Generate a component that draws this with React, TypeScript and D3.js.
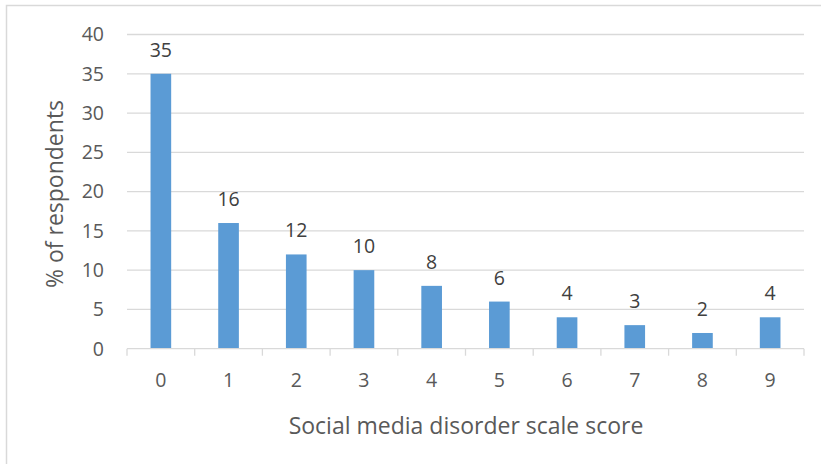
import { scaleBand, scaleLinear } from "d3";

const scores = ["0", "1", "2", "3", "4", "5", "6", "7", "8", "9"];
const percents = [35, 16, 12, 10, 8, 6, 4, 3, 2, 4];
const yTickValues = [0, 5, 10, 15, 20, 25, 30, 35, 40];
const xTitle = "Social media disorder scale score";
const yTitle = "% of respondents";

const width = 821;
const height = 464;
const margin = { top: 34.5, right: 17, bottom: 115.3, left: 127 };
const font = "'Open Sans', 'Noto Sans', sans-serif";

export default function App() {
  const x = scaleBand<string>()
    .domain(scores)
    .range([margin.left, width - margin.right])
    .padding(0);
  const y = scaleLinear()
    .domain([0, 40])
    .range([height - margin.bottom, margin.top]);
  const barW = x.bandwidth() * 0.305;
  const baseY = y(0);

  return (
    <svg
      width={width}
      height={height}
      style={{ position: "absolute", left: 0, top: 0 }}
      fontFamily={font}
    >
      <rect x={0} y={0} width={width} height={height} fill="#fff" />
      <rect
        x={6.5}
        y={5.5}
        width={width}
        height={height}
        fill="none"
        stroke="#d9d9d9"
        strokeWidth={1.5}
      />

      {yTickValues.map((t) => (
        <g key={`y-${t}`}>
          {t > 0 && (
            <line
              x1={margin.left}
              x2={width - margin.right}
              y1={y(t)}
              y2={y(t)}
              stroke="#d9d9d9"
              strokeWidth={1.3}
            />
          )}
          <text
            x={104}
            y={y(t)}
            dy="0.35em"
            textAnchor="end"
            fontSize={19.5}
            fill="#595959"
          >
            {t}
          </text>
        </g>
      ))}

      {scores.map((s, i) => {
        const cx = (x(s) ?? 0) + x.bandwidth() / 2;
        const top = y(percents[i]);
        return (
          <g key={`bar-${s}`}>
            <rect
              x={cx - barW / 2}
              y={top}
              width={barW}
              height={baseY - top}
              fill="#5b9bd5"
            />
            <text
              x={cx}
              y={top - 17}
              textAnchor="middle"
              fontSize={19.5}
              fill="#404040"
            >
              {percents[i]}
            </text>
            <text
              x={cx}
              y={baseY + 38}
              textAnchor="middle"
              fontSize={19.5}
              fill="#595959"
            >
              {s}
            </text>
          </g>
        );
      })}

      <line
        x1={margin.left}
        x2={width - margin.right}
        y1={baseY}
        y2={baseY}
        stroke="#d9d9d9"
        strokeWidth={1.3}
      />
      {[...scores.map((s) => x(s) ?? 0), width - margin.right].map((tx) => (
        <line
          key={`tick-${tx}`}
          x1={tx}
          x2={tx}
          y1={baseY}
          y2={baseY + 7}
          stroke="#d9d9d9"
          strokeWidth={1.3}
        />
      ))}

      <text
        x={466}
        y={434}
        textAnchor="middle"
        fontSize={23}
        fill="#595959"
      >
        {xTitle}
      </text>
      <text
        transform={`translate(63, 194) rotate(-90)`}
        textAnchor="middle"
        fontSize={23}
        fill="#595959"
      >
        {yTitle}
      </text>
    </svg>
  );
}
